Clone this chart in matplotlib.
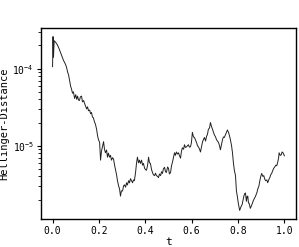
import matplotlib
matplotlib.use("Agg")
from matplotlib import pyplot as plt

plt.rcParams['font.family'] = ['DejaVu Sans Mono']
plt.rcParams['mathtext.fontset'] = 'custom'
plt.rcParams['mathtext.rm'] = 'DejaVu Sans Mono'
plt.rcParams['mathtext.it'] = 'DejaVu Sans Mono'

# Values.
t = [0.000, 0.002, 0.004, 0.007, 0.013, 0.020, 0.027, 0.034, 0.040, 0.047,
     0.052, 0.056, 0.060, 0.065, 0.069, 0.074, 0.078, 0.082, 0.086, 0.090,
     0.095, 0.100, 0.104, 0.108, 0.112, 0.116, 0.120, 0.125, 0.129, 0.134,
     0.140, 0.147, 0.151, 0.155, 0.160, 0.164, 0.168, 0.172, 0.176, 0.181,
     0.185, 0.190, 0.194, 0.198, 0.203, 0.207, 0.211, 0.216, 0.220, 0.224,
     0.228, 0.233, 0.237, 0.241, 0.246, 0.250, 0.254, 0.259, 0.263, 0.268,
     0.272, 0.276, 0.280, 0.285, 0.289, 0.293, 0.297, 0.302, 0.306, 0.310,
     0.315, 0.319, 0.323, 0.328, 0.332, 0.336, 0.341, 0.345, 0.349, 0.353,
     0.358, 0.362, 0.366, 0.371, 0.375, 0.379, 0.384, 0.388, 0.392, 0.397,
     0.401, 0.405, 0.410, 0.414, 0.418, 0.422, 0.427, 0.431, 0.435, 0.440,
     0.444, 0.448, 0.453, 0.457, 0.461, 0.466, 0.470, 0.474, 0.478, 0.483,
     0.487, 0.491, 0.496, 0.500, 0.504, 0.509, 0.513, 0.517, 0.522, 0.526,
     0.530, 0.534, 0.539, 0.543, 0.547, 0.552, 0.556, 0.560, 0.565, 0.569,
     0.573, 0.578, 0.582, 0.586, 0.590, 0.595, 0.599, 0.603, 0.608, 0.612,
     0.616, 0.621, 0.625, 0.629, 0.634, 0.638, 0.642, 0.647, 0.651, 0.655,
     0.660, 0.664, 0.668, 0.672, 0.677, 0.681, 0.685, 0.690, 0.694, 0.698,
     0.703, 0.707, 0.711, 0.716, 0.720, 0.724, 0.729, 0.733, 0.737, 0.741,
     0.746, 0.750, 0.754, 0.759, 0.763, 0.767, 0.772, 0.776, 0.780, 0.784,
     0.789, 0.793, 0.797, 0.801, 0.807, 0.812, 0.818, 0.822, 0.825, 0.829,
     0.832, 0.836, 0.839, 0.842, 0.845, 0.848, 0.853, 0.857, 0.862, 0.866,
     0.871, 0.875, 0.879, 0.882, 0.885, 0.890, 0.894, 0.898, 0.902, 0.907,
     0.911, 0.915, 0.919, 0.924, 0.928, 0.932, 0.937, 0.941, 0.945, 0.950,
     0.954, 0.958, 0.963, 0.967, 0.971, 0.975, 0.977, 0.982, 0.986, 0.990,
     0.994, 1.000]

hellinger = [1.06e-4, 2.60e-4, 1.40e-4, 2.30e-4, 2.20e-4, 2.05e-4, 1.85e-4, 1.63e-4, 1.45e-4, 1.28e-4,
             1.20e-4, 1.13e-4, 1.05e-4, 9.0e-5, 8.3e-5, 6.8e-5, 5.9e-5, 5.4e-5, 4.8e-5, 5.0e-5,
             4.1e-5, 4.6e-5, 4.0e-5, 4.4e-5, 3.9e-5, 3.86e-5, 4.3e-5, 4.4e-5, 3.7e-5, 3.86e-5,
             3.4e-5, 3.0e-5, 3.2e-5, 2.84e-5, 2.9e-5, 2.6e-5, 2.7e-5, 2.36e-5, 2.3e-5, 2.03e-5,
             1.9e-5, 1.63e-5, 1.35e-5, 1.2e-5, 1.1e-5, 6.5e-6, 8.5e-6, 1.0e-5, 1.13e-5, 9.0e-6,
             8.1e-6, 8.8e-6, 7.1e-6, 8.0e-6, 7.1e-6, 7.5e-6, 6.5e-6, 7.0e-6, 6.7e-6, 5.5e-6,
             4.8e-6, 4.2e-6, 3.52e-6, 3.0e-6, 2.75e-6, 2.22e-6, 2.6e-6, 2.59e-6, 3.0e-6, 3.11e-6,
             2.9e-6, 3.31e-6, 3.1e-6, 3.52e-6, 3.3e-6, 3.74e-6, 3.5e-6, 3.31e-6, 3.6e-6, 3.52e-6,
             4.5e-6, 5.9e-6, 7.1e-6, 6.0e-6, 6.5e-6, 5.9e-6, 6.5e-6, 5.6e-6, 5.9e-6, 5.1e-6,
             4.9e-6, 4.8e-6, 5.6e-6, 7.1e-6, 6.0e-6, 5.9e-6, 4.9e-6, 4.5e-6, 4.2e-6, 4.1e-6,
             4.4e-6, 4.1e-6, 4.0e-6, 3.86e-6, 4.3e-6, 4.1e-6, 4.6e-6, 4.37e-6, 5.0e-6, 5.25e-6,
             4.6e-6, 4.5e-6, 5.3e-6, 5.1e-6, 4.3e-6, 4.5e-6, 5.5e-6, 6.1e-6, 7.2e-6, 8.1e-6,
             7.5e-6, 8.3e-6, 7.8e-6, 8.1e-6, 7.5e-6, 6.9e-6, 8.5e-6, 9.4e-6, 9.0e-6, 1.03e-5,
             9.5e-6, 9.7e-6, 1.0e-5, 1.03e-5, 9.6e-6, 9.7e-6, 1.1e-5, 1.49e-5, 1.3e-5, 1.28e-5,
             1.2e-5, 1.10e-5, 1.0e-5, 9.7e-6, 9.0e-6, 8.3e-6, 9.5e-6, 1.13e-5, 1.2e-5, 1.28e-5,
             1.15e-5, 1.32e-5, 1.4e-5, 1.63e-5, 1.7e-5, 2.0e-5, 1.8e-5, 1.63e-5, 1.5e-5, 1.38e-5,
             1.3e-5, 1.2e-5, 1.15e-5, 1.10e-5, 1.0e-5, 8.85e-6, 1.05e-5, 1.2e-5, 1.3e-5, 1.28e-5,
             1.4e-5, 1.49e-5, 1.6e-5, 1.49e-5, 1.35e-5, 1.2e-5, 1.0e-5, 8.1e-6, 6.0e-6, 4.8e-6,
             4.1e-6, 2.59e-6, 2.2e-6, 1.8e-6, 1.45e-6, 1.6e-6, 1.74e-6, 2.0e-6, 2.22e-6, 2.4e-6,
             2.44e-6, 1.9e-6, 2.2e-6, 2.22e-6, 1.8e-6, 1.79e-6, 1.54e-6, 1.65e-6, 1.79e-6, 1.95e-6,
             2.09e-6, 2.2e-6, 2.36e-6, 2.5e-6, 2.75e-6, 3.0e-6, 3.52e-6, 4.0e-6, 4.37e-6, 4.0e-6,
             4.1e-6, 3.7e-6, 3.52e-6, 3.6e-6, 3.31e-6, 3.6e-6, 3.86e-6, 4.2e-6, 4.37e-6, 4.8e-6,
             5.1e-6, 5.3e-6, 5.6e-6, 5.5e-6, 6.1e-6, 7.0e-6, 8.1e-6, 7.5e-6, 7.6e-6, 8.3e-6,
             8.1e-6, 7.4e-6]

fig = plt.figure(figsize=(2.99, 2.47), dpi=100)
ax = fig.add_axes([0.137, 0.113, 0.853, 0.774])

ax.plot(t, hellinger, color='#222222', lw=0.7)
ax.set_yscale('log')

ax.set_xticks([0.0, 0.2, 0.4, 0.6, 0.8, 1.0])
ax.set_xlabel('t', fontsize=8, labelpad=1)
ax.set_ylabel('Hellinger-Distance', fontsize=7.5, labelpad=2)
ax.tick_params(labelsize=7, length=3, width=0.8, pad=2)
ax.tick_params(which='minor', length=2, width=0.6)
for s in ax.spines.values():
    s.set_linewidth(1.0)

fig.savefig('out.png', dpi=100)
